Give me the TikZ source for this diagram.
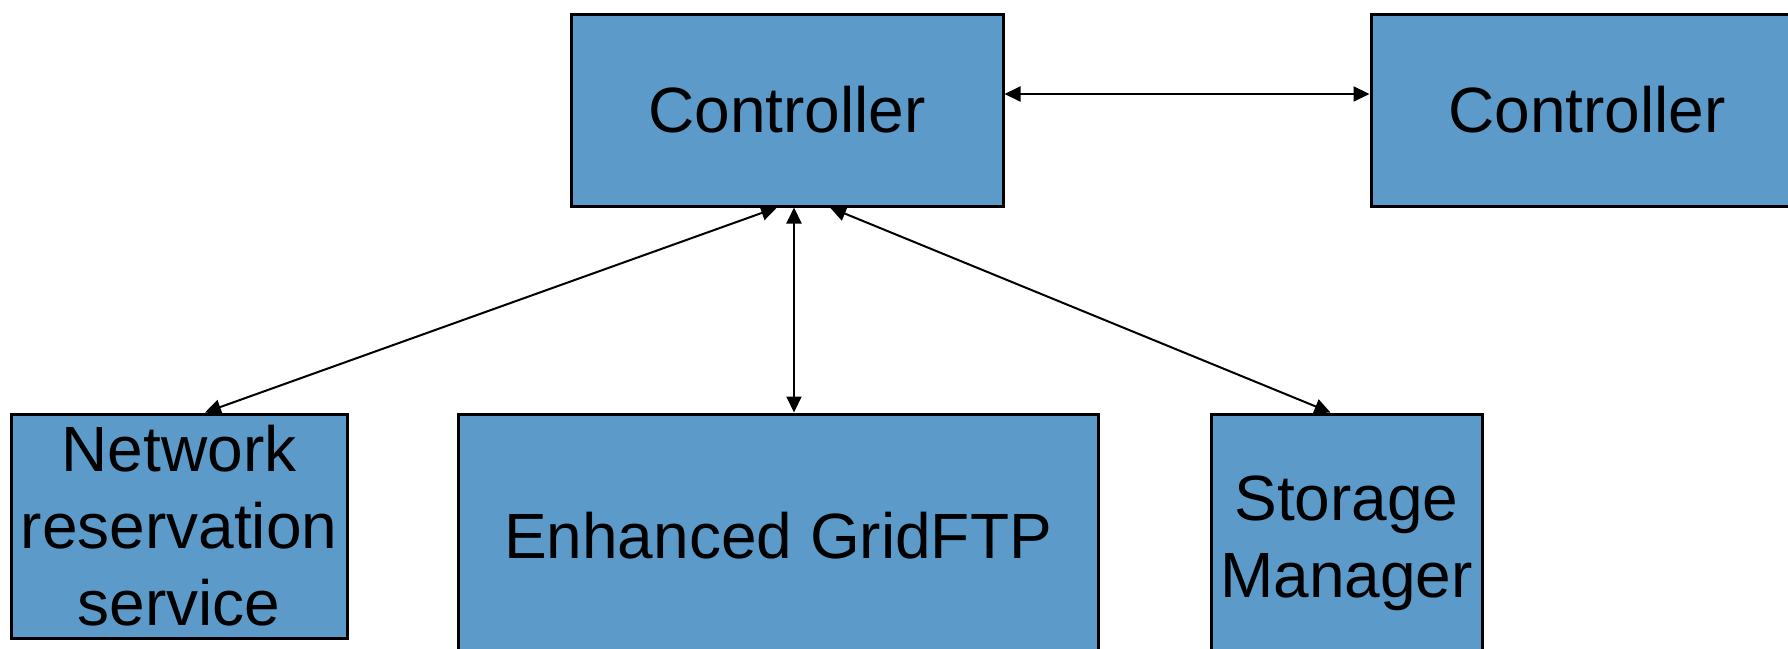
\documentclass[tikz,border=0pt]{standalone}
\usepackage{fontspec}
\setmainfont{Liberation Sans}
\usetikzlibrary{arrows.meta}
\definecolor{boxblue}{RGB}{92,155,201}
\tikzset{
  block/.style={draw=black, line width=3pt, fill=boxblue, inner sep=0pt,
    align=center, font=\fontsize{64}{77}\selectfont},
  link/.style={line width=2pt, {Triangle[length=16pt,width=15pt]}-{Triangle[length=16pt,width=15pt]}}
}
\begin{document}
\begin{tikzpicture}[x=1pt,y=-1pt]
  \useasboundingbox (0,0) rectangle (1788,648);
  \clip (0,0) rectangle (1788,648);
  % top row
  \node[block, minimum width=432pt, minimum height=192pt] (c1) at (787,110) {Controller};
  \node[block, minimum width=432pt, minimum height=192pt] (c2) at (1587,110) {Controller};
  % bottom row
  \node[block, minimum width=336pt, minimum height=224pt] (nrs) at (179,526) {Network\\reservation\\service};
  \node[block, minimum width=640pt, minimum height=244pt] (gftp) at (778,536) {Enhanced GridFTP};
  \node[block, minimum width=271pt, minimum height=258pt] (sm) at (1346.5,543) {Storage\\Manager};
  % connections
  \draw[link] ([yshift=16pt]c1.east) -- ([yshift=16pt]c2.west);
  \draw[link] ([xshift=-10pt]c1.south) -- ([xshift=26pt]nrs.north);
  \draw[link] ([xshift=7pt]c1.south) -- ([xshift=16pt]gftp.north);
  \draw[link] ([xshift=43pt]c1.south) -- ([xshift=-16pt]sm.north);
\end{tikzpicture}
\end{document}
